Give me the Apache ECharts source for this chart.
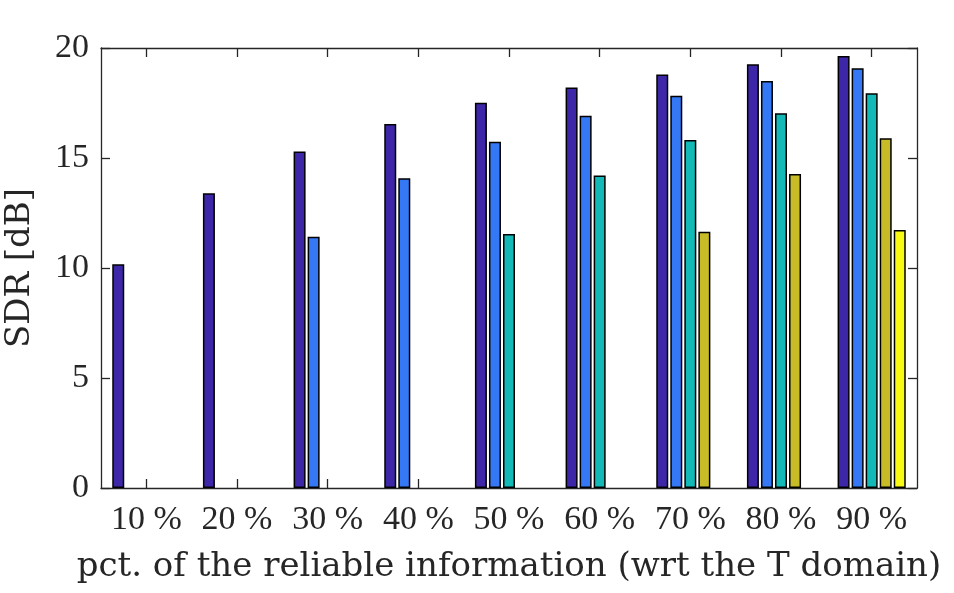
<!DOCTYPE html>
<html>
<head>
<meta charset="utf-8">
<script src="https://cdn.jsdelivr.net/npm/echarts@6/dist/echarts.min.js"></script>
<style>html,body{margin:0;padding:0;background:#fff;}#c{width:954px;height:593px;}</style>
</head>
<body>
<div id="c"></div>
<script>
var categories = ['10 %','20 %','30 %','40 %','50 %','60 %','70 %','80 %','90 %'];
var s1 = [10.17, 13.4, 15.29, 16.55, 17.51, 18.21, 18.8, 19.26, 19.64];
var s2 = [0, 0, 11.42, 14.08, 15.74, 16.92, 17.83, 18.5, 19.08];
var s3 = [0, 0, 0, 0, 11.55, 14.2, 15.82, 17.03, 17.94];
var s4 = [0, 0, 0, 0, 0, 0, 11.65, 14.27, 15.9];
var s5 = [0, 0, 0, 0, 0, 0, 0, 0, 11.73];
var yTicks = [0, 5, 10, 15, 20];
var colors = ['#3e26a8', '#3478f6', '#13b9b6', '#c8bb28', '#f9fa14'];

var FONT = 'Liberation Serif';
var NAMEFONT = 'DejaVu Serif';
var LC = '#262626';
function axisLine() { return {show: true, onZero: false, lineStyle: {color: LC, width: 1.3}}; }
function xTick() { return {show: true, inside: true, length: 9, interval: 0, alignWithLabel: true, lineStyle: {color: LC, width: 1.3}}; }
function yTick() { return {show: true, inside: true, length: 9, lineStyle: {color: LC, width: 1.3}}; }
function bar(data, i) {
  return {
    type: 'bar', xAxisIndex: 0, yAxisIndex: 0,
    data: data.map(function (v) { return v === 0 ? null : v; }),
    barWidth: 12, barGap: '17%',
    itemStyle: {color: colors[i], borderColor: '#000', borderWidth: 1.5},
    silent: true, animation: false
  };
}
var chart = echarts.init(document.getElementById('c'));
chart.setOption({
  animation: false,
  grid: {left: 101, right: 37, top: 48, bottom: 105, containLabel: false, outerBoundsMode: 'none'},
  xAxis: [{
    type: 'category', data: categories, position: 'bottom',
    axisLine: axisLine(), axisTick: xTick(),
    axisLabel: {fontFamily: FONT, fontSize: 34, color: LC, margin: 15, interval: 0, hideOverlap: false},
    name: 'pct. of the reliable information (wrt the T domain)',
    nameLocation: 'middle', nameGap: 62,
    nameTextStyle: {fontFamily: NAMEFONT, fontSize: 34, color: LC}
  }, {
    type: 'category', data: categories, position: 'top',
    axisLine: axisLine(), axisTick: xTick(),
    axisLabel: {show: false, interval: 0}
  }],
  yAxis: [{
    type: 'value', min: 0, max: 20, interval: 5, position: 'left',
    axisLine: axisLine(), axisTick: yTick(),
    splitLine: {show: false},
    axisLabel: {fontFamily: FONT, fontSize: 34, color: LC, margin: 12,
      formatter: function (v) { return yTicks.indexOf(v) >= 0 ? String(v) : ''; }},
    name: 'SDR [dB]', nameLocation: 'middle', nameGap: 64,
    nameTextStyle: {fontFamily: NAMEFONT, fontSize: 34, color: LC}
  }, {
    type: 'value', min: 0, max: 20, interval: 5, position: 'right',
    axisLine: axisLine(), axisTick: yTick(),
    splitLine: {show: false},
    axisLabel: {show: false}
  }],
  series: [bar(s1, 0), bar(s2, 1), bar(s3, 2), bar(s4, 3), bar(s5, 4)]
});
</script>
</body>
</html>
